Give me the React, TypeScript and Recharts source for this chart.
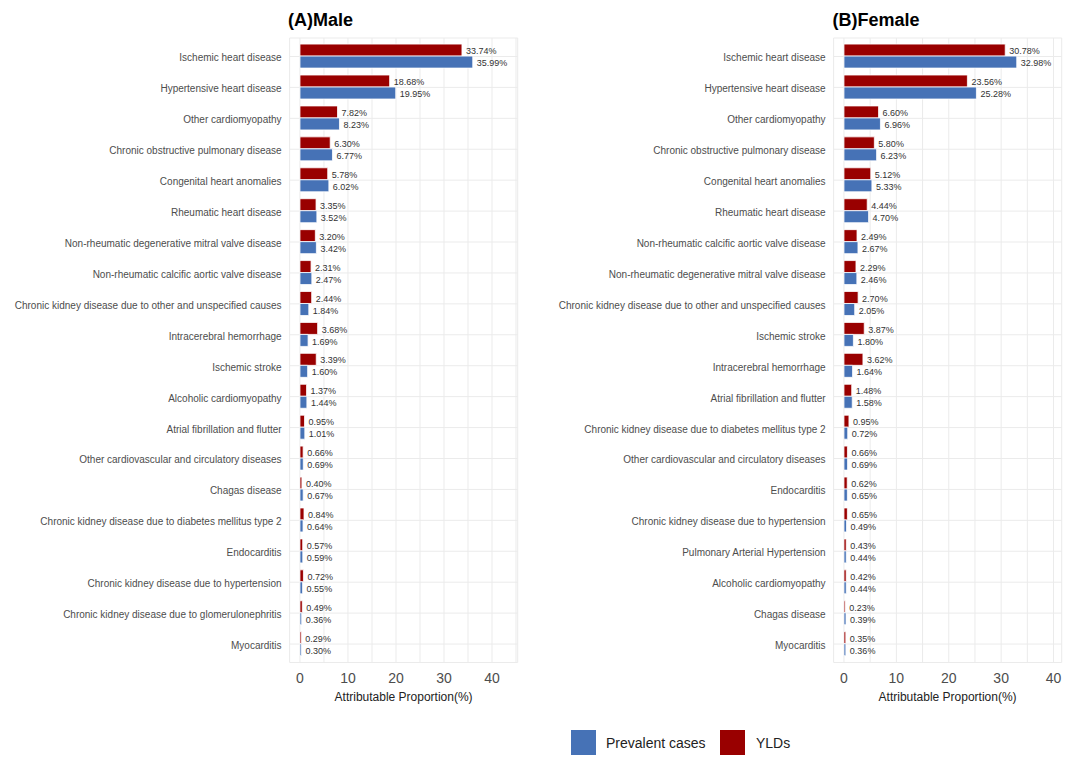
import React from 'react';
import { BarChart, Bar, XAxis, YAxis, CartesianGrid, LabelList } from 'recharts';

const maleCategories = [
  'Ischemic heart disease',
  'Hypertensive heart disease',
  'Other cardiomyopathy',
  'Chronic obstructive pulmonary disease',
  'Congenital heart anomalies',
  'Rheumatic heart disease',
  'Non-rheumatic degenerative mitral valve disease',
  'Non-rheumatic calcific aortic valve disease',
  'Chronic kidney disease due to other and unspecified causes',
  'Intracerebral hemorrhage',
  'Ischemic stroke',
  'Alcoholic cardiomyopathy',
  'Atrial fibrillation and flutter',
  'Other cardiovascular and circulatory diseases',
  'Chagas disease',
  'Chronic kidney disease due to diabetes mellitus type 2',
  'Endocarditis',
  'Chronic kidney disease due to hypertension',
  'Chronic kidney disease due to glomerulonephritis',
  'Myocarditis',
];
const maleYLDs = [33.74, 18.68, 7.82, 6.3, 5.78, 3.35, 3.2, 2.31, 2.44, 3.68, 3.39, 1.37, 0.95, 0.66, 0.4, 0.84, 0.57, 0.72, 0.49, 0.29];
const malePrevalent = [35.99, 19.95, 8.23, 6.77, 6.02, 3.52, 3.42, 2.47, 1.84, 1.69, 1.6, 1.44, 1.01, 0.69, 0.67, 0.64, 0.59, 0.55, 0.36, 0.3];

const femaleCategories = [
  'Ischemic heart disease',
  'Hypertensive heart disease',
  'Other cardiomyopathy',
  'Chronic obstructive pulmonary disease',
  'Congenital heart anomalies',
  'Rheumatic heart disease',
  'Non-rheumatic calcific aortic valve disease',
  'Non-rheumatic degenerative mitral valve disease',
  'Chronic kidney disease due to other and unspecified causes',
  'Ischemic stroke',
  'Intracerebral hemorrhage',
  'Atrial fibrillation and flutter',
  'Chronic kidney disease due to diabetes mellitus type 2',
  'Other cardiovascular and circulatory diseases',
  'Endocarditis',
  'Chronic kidney disease due to hypertension',
  'Pulmonary Arterial Hypertension',
  'Alcoholic cardiomyopathy',
  'Chagas disease',
  'Myocarditis',
];
const femaleYLDs = [30.78, 23.56, 6.6, 5.8, 5.12, 4.44, 2.49, 2.29, 2.7, 3.87, 3.62, 1.48, 0.95, 0.66, 0.62, 0.65, 0.43, 0.42, 0.23, 0.35];
const femalePrevalent = [32.98, 25.28, 6.96, 6.23, 5.33, 4.7, 2.67, 2.46, 2.05, 1.8, 1.64, 1.58, 0.72, 0.69, 0.65, 0.49, 0.44, 0.44, 0.39, 0.36];

const xTickLabels = [0, 10, 20, 30, 40];
const maleGridTicks = [0, 5, 10, 15, 20, 25, 30, 35, 40, 45];
const femaleGridTicks = [0, 5, 10, 15, 20, 25, 30, 35, 40];
const maleDomain: [number, number] = [-2.16, 45.35];
const femaleDomain: [number, number] = [-1.98, 41.56];

const seriesNames = { prev: 'Prevalent cases', yld: 'YLDs' };
const BLUE = '#4672B6';
const RED = '#990000';
const FONT = '"Liberation Sans", Arial, sans-serif';

const YTick = (props: any) => {
  const { x, y, payload } = props;
  return (
    <text x={x} y={y + 1.5} dy="0.35em" textAnchor="end" fontSize={10} fill="#4d4d4d" fontFamily={FONT}>
      {payload.value}
    </text>
  );
};

const XTick = (props: any) => {
  const { x, y, payload } = props;
  if (!xTickLabels.includes(payload.value)) return <g />;
  return (
    <text x={x} y={y + 15.5} dy="0.35em" textAnchor="middle" fontSize={14} fill="#4d4d4d" fontFamily={FONT}>
      {payload.value}
    </text>
  );
};

const ValueLabel = (props: any) => {
  const { x, y, width, height, value } = props;
  return (
    <text x={x + width + 4} y={y + height / 2 + 1} dy="0.35em" textAnchor="start" fontSize={9} fill="#333" fontFamily={FONT}>
      {Number(value).toFixed(2)}%
    </text>
  );
};

type PanelProps = {
  categories: string[];
  ylds: number[];
  prev: number[];
  domain: [number, number];
  gridTicks: number[];
  width: number;
  yAxisWidth: number;
  marginRight: number;
};

const Panel = ({ categories, ylds, prev, domain, gridTicks, width, yAxisWidth, marginRight }: PanelProps) => {
  const data = categories.map((c, i) => ({ name: c, yld: ylds[i], prev: prev[i] }));
  return (
    <BarChart
      width={width}
      height={757}
      data={data}
      layout="vertical"
      margin={{ top: 38, right: marginRight, bottom: 64.5, left: 0 }}
      barCategoryGap="10%"
      barGap={0}
    >
      <CartesianGrid stroke="#ebebeb" strokeWidth={1} />
      <XAxis
        type="number"
        domain={domain}
        allowDataOverflow
        ticks={gridTicks}
        interval={0}
        axisLine={false}
        tickLine={false}
        tickSize={0}
        tickMargin={0}
        height={30}
        tick={<XTick />}
      />
      <YAxis
        type="category"
        dataKey="name"
        width={yAxisWidth}
        axisLine={false}
        tickLine={false}
        tickSize={0}
        tickMargin={8}
        interval={0}
        padding={{ top: 3, bottom: 3 }}
        tick={<YTick />}
      />
      <Bar dataKey="yld" name={seriesNames.yld} fill={RED} stroke="#fff" strokeWidth={0.8} isAnimationActive={false}>
        <LabelList dataKey="yld" content={<ValueLabel />} />
      </Bar>
      <Bar dataKey="prev" name={seriesNames.prev} fill={BLUE} stroke="#fff" strokeWidth={0.8} isAnimationActive={false}>
        <LabelList dataKey="prev" content={<ValueLabel />} />
      </Bar>
    </BarChart>
  );
};

export default function App() {
  return (
    <div style={{ position: 'absolute', left: 0, top: 0, width: 1066, height: 757, background: '#fff', fontFamily: FONT, overflow: 'hidden' }}>
      <div style={{ position: 'absolute', left: 0, top: 0 }}>
        <Panel
          categories={maleCategories}
          ylds={maleYLDs}
          prev={malePrevalent}
          domain={maleDomain}
          gridTicks={maleGridTicks}
          width={530}
          yAxisWidth={289.6}
          marginRight={12.3}
        />
      </div>
      <div style={{ position: 'absolute', left: 530, top: 0 }}>
        <Panel
          categories={femaleCategories}
          ylds={femaleYLDs}
          prev={femalePrevalent}
          domain={femaleDomain}
          gridTicks={femaleGridTicks}
          width={536}
          yAxisWidth={303.6}
          marginRight={4.3}
        />
      </div>
      <svg width={1066} height={757} style={{ position: 'absolute', left: 0, top: 0, pointerEvents: 'none' }}>
        <text x={288} y={26} fontSize={18} fontWeight="bold" fill="#000" fontFamily={FONT}>(A)Male</text>
        <text x={832.5} y={26} fontSize={18} fontWeight="bold" fill="#000" fontFamily={FONT}>(B)Female</text>
        <text x={403.6} y={700.5} fontSize={12} textAnchor="middle" fill="#222" fontFamily={FONT}>Attributable Proportion(%)</text>
        <text x={947.6} y={700.5} fontSize={12} textAnchor="middle" fill="#222" fontFamily={FONT}>Attributable Proportion(%)</text>
        <rect x={571} y={730} width={25} height={25} fill={BLUE} />
        <text x={606} y={748} fontSize={14} fill="#222" fontFamily={FONT}>{seriesNames.prev}</text>
        <rect x={720} y={730} width={25} height={25} fill={RED} />
        <text x={756} y={748} fontSize={14} fill="#222" fontFamily={FONT}>{seriesNames.yld}</text>
      </svg>
    </div>
  );
}
